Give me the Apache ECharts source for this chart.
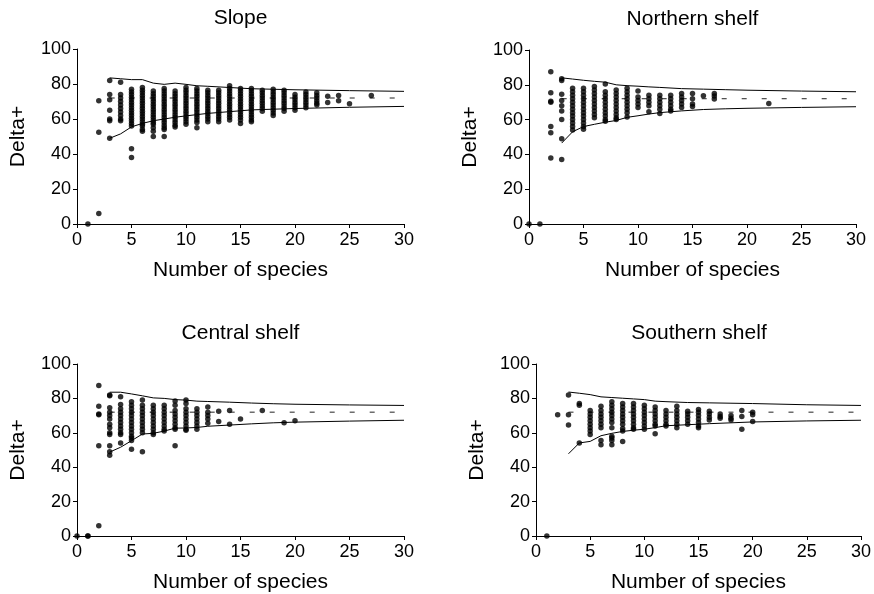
<!DOCTYPE html>
<html>
<head>
<meta charset="utf-8">
<script src="https://cdn.jsdelivr.net/npm/echarts@6/dist/echarts.min.js"></script>
<style>html,body{margin:0;padding:0;background:#fff}#c{width:874px;height:594px}</style>
</head>
<body>
<div id="c"></div>
<script>
const panelTitles = ['Slope', 'Northern shelf', 'Central shelf', 'Southern shelf'];
const xTicks = [0, 5, 10, 15, 20, 25, 30];
const yTicks = [0, 20, 40, 60, 80, 100];
const meanDelta = 72;

// points: [number of species, [Delta+ values]]
const slopePts = [
  [1, [0]],
  [2, [70.5, 52.5, 6]],
  [3, [82, 74, 71, 65, 60, 59, 49]],
  [4, [81, 74, 72, 70, 68, 66, 64, 62, 60, 59]],
  [5, [77, 75.5, 74, 72.5, 71, 69.5, 68, 66.5, 65, 63.5, 62, 60.5, 59, 57.5, 56, 43, 38]],
  [6, [78, 76.5, 75, 73.5, 72, 70.5, 69, 67.5, 66, 64.5, 63, 61.5, 60, 58.5, 57, 56, 54, 53]],
  [7, [76, 74.5, 73, 71.5, 70, 68.5, 67, 65.5, 64, 62.5, 61, 59.5, 58, 57, 55, 53, 50]],
  [8, [77.5, 76, 74.5, 73, 71.5, 70, 68.5, 67, 65.5, 64, 62.5, 61, 59.5, 58, 56.5, 55, 54, 50]],
  [9, [76, 74.5, 73, 71.5, 70, 68.5, 67, 65.5, 64, 62.5, 61, 59.5, 58, 56.5, 55.5]],
  [10, [78, 76.5, 75, 73.5, 72, 70.5, 69, 67.5, 66, 64.5, 63, 61.5, 60, 58.5, 57]],
  [11, [77.5, 76, 74.5, 73, 71.5, 70, 68.5, 67, 65.5, 64, 62.5, 61, 59.5, 58, 55]],
  [12, [76.5, 75, 73.5, 72, 70.5, 69, 67.5, 66, 64.5, 63, 61.5, 60, 58.5]],
  [13, [76.5, 75, 73.5, 72, 70.5, 69, 67.5, 66, 64.5, 63, 61.5, 60, 58.5]],
  [14, [79, 77.5, 76, 74.5, 73, 71.5, 70, 68.5, 67, 65.5, 64, 62.5, 61, 59.5]],
  [15, [77.5, 76, 74.5, 73, 71.5, 70, 68.5, 67, 65.5, 64, 62.5, 61, 59.5, 57.5]],
  [16, [77.5, 76, 74.5, 73, 71.5, 70, 68.5, 67, 65.5, 64, 62.5, 61, 59.5, 58.5]],
  [17, [76.5, 75, 73.5, 72, 70.5, 69, 67.5, 66, 64.5]],
  [18, [77, 75.5, 74, 72.5, 71, 69.5, 68, 66.5, 65, 63.5, 62]],
  [19, [76.5, 75, 73.5, 72, 70.5, 69, 67.5, 66, 64.5]],
  [20, [74, 72.5, 71, 69.5, 68, 66.5, 65]],
  [21, [75.5, 74, 72.5, 71, 69.5, 68, 66.5]],
  [22, [75, 73.5, 72, 70.5, 69, 68]],
  [23, [73, 69.5]],
  [24, [73.5, 70.5]],
  [25, [68.7]],
  [27, [73.5]]
];
const northPts = [
  [0, [0]],
  [1, [0]],
  [2, [87.5, 75.5, 70.5, 70, 56, 52.5, 38]],
  [3, [83.5, 82.5, 74.5, 71, 68, 65, 60, 49, 37]],
  [4, [78, 76, 74, 72, 70, 68, 66, 64, 62, 60, 58, 56, 54]],
  [5, [78, 76, 74, 72, 70, 68, 66, 64, 62, 60, 58, 56, 54.5]],
  [6, [79, 77, 75, 73, 71, 69, 67, 65, 63, 61]],
  [7, [80.5, 76, 74, 72, 70, 68, 66, 64, 62, 60, 59]],
  [8, [77, 75, 73, 71, 69, 67, 65, 63, 61, 60]],
  [9, [78, 76, 74, 72, 70, 68, 66, 64, 61.5]],
  [10, [76.5, 73, 71, 69, 67]],
  [11, [74, 72, 70, 68, 64.5]],
  [12, [74, 72, 70, 68, 66, 63.5]],
  [13, [74, 72, 70, 68, 66, 65]],
  [14, [75, 73, 71, 69, 67]],
  [15, [75, 72, 69, 67.5]],
  [16, [73.7]],
  [17, [75, 73.5, 71.8]],
  [22, [69.3]]
];
const centralPts = [
  [0, [0]],
  [1, [0, 0]],
  [2, [87.5, 75.5, 71, 70.5, 52.5, 6]],
  [3, [82, 81.5, 74.5, 72, 70, 68, 65, 63, 60, 59, 52.5, 49, 47]],
  [4, [81, 76.5, 74, 72, 70, 68, 66, 64, 62, 60, 59, 54]],
  [5, [78, 76, 74, 72, 70, 68, 66, 64, 62, 60, 58, 57, 55.5, 50.5]],
  [6, [79, 76, 74, 72, 70, 68, 66, 64, 62, 60, 49]],
  [7, [76, 74, 72, 70, 68, 66, 64, 62, 60, 59]],
  [8, [76, 74, 72, 70, 68, 66, 64, 62, 61]],
  [9, [78.5, 76, 73, 71, 69, 67, 65, 63, 62, 52.5]],
  [10, [79, 77, 74, 72, 70, 68, 66, 64, 62, 61.5]],
  [11, [74, 72, 70, 68, 66, 64, 62]],
  [12, [75, 72, 70, 68, 65.5]],
  [13, [72.5, 66.5]],
  [14, [73, 65]],
  [15, [68]],
  [17, [73]],
  [19, [65.8]],
  [20, [67]]
];
const southPts = [
  [1, [0]],
  [2, [70.5]],
  [3, [82, 70.5, 64.5]],
  [4, [77, 76, 54]],
  [5, [73, 71, 69, 67, 65, 63, 61, 59]],
  [6, [75.5, 73, 71, 69, 67, 65, 63, 55.5, 53]],
  [7, [78, 76, 74, 72, 70, 68, 66, 63, 58, 57, 55.5, 53]],
  [8, [77, 75, 73, 71, 69, 67, 65, 62.5, 61, 55]],
  [9, [77, 75, 73, 71, 69, 67, 65, 63, 62]],
  [10, [76, 74, 72, 70, 68, 66, 64, 62]],
  [11, [75, 73, 71, 69, 67, 65, 64, 59.5]],
  [12, [73, 71, 69, 67, 65, 64]],
  [13, [75.5, 73, 71, 69, 67, 65, 63]],
  [14, [72.5, 71, 69, 67, 65]],
  [15, [73.5, 72, 70, 68, 66, 64, 63]],
  [16, [72.5, 71, 69, 67.5]],
  [17, [71, 69.5, 68.5]],
  [18, [70, 68.5, 67.5]],
  [19, [73, 69.5, 62]],
  [20, [72, 70.5, 66.5]]
];

// funnel limits
const funnelX = [3, 4, 5, 6, 7, 8, 9, 10, 11, 12, 14, 16, 18, 20, 25, 30];
const slopeUpper = [83.5, 83, 82.5, 82.5, 80.5, 79.8, 80.5, 79.8, 79, 78.7, 78, 77.3, 77, 76.7, 76.2, 75.8];
const slopeLower = [49, 51.5, 55.5, 57.5, 59, 60, 61, 61.8, 62.5, 63.2, 64.2, 65.2, 65.6, 66, 66.7, 67.2];
const northUpper = [84, 83.3, 82.6, 82, 81.5, 80, 79.5, 79.2, 78.8, 78.5, 77.8, 77.5, 77.2, 76.9, 76.4, 76];
const northLower = [46.5, 53, 56, 57.3, 58.5, 59.5, 61.3, 62.2, 63.2, 64, 65, 65.8, 66.2, 66.5, 67, 67.4];
const centralUpper = [83.6, 83.6, 82.6, 81.5, 80.3, 80, 79.3, 79, 78.4, 78.2, 77.8, 77.3, 76.9, 76.6, 76.2, 75.9];
const centralLower = [48.8, 51.6, 55.4, 59.3, 59.7, 61, 62.7, 62.8, 63.1, 63.8, 64.5, 65.2, 65.8, 66.2, 66.8, 67.3];
const southUpper = [83.7, 83, 82.2, 80.9, 80.5, 80.1, 79.7, 79.3, 78.4, 78.1, 77.6, 77.4, 77.2, 77, 76.3, 75.9];
const southLower = [47.8, 54.1, 55, 58.3, 59.7, 60.8, 61.5, 62.1, 63, 64.1, 64.7, 65.3, 65.8, 66.3, 66.9, 67.3];

const panels = [
  { pts: slopePts, up: slopeUpper, lo: slopeLower },
  { pts: northPts, up: northUpper, lo: northLower },
  { pts: centralPts, up: centralUpper, lo: centralLower },
  { pts: southPts, up: southUpper, lo: southLower }
];

const grids = [
  { left: 77, top: 49, width: 327, height: 175 },
  { left: 529, top: 50, width: 327, height: 174 },
  { left: 77, top: 364, width: 327, height: 174 },
  { left: 536, top: 364, width: 326, height: 174 }
];
const FONT = 'Liberation Sans, Arial, sans-serif';

const option = {
  animation: false,
  backgroundColor: '#fff',
  textStyle: { fontFamily: FONT },
  title: grids.map((g, i) => ({
    text: panelTitles[i],
    left: g.left + g.width / 2,
    top: g.top - 41,
    textAlign: 'center',
    padding: 0,
    textStyle: { fontFamily: FONT, fontSize: 21, fontWeight: 'normal', color: '#000' }
  })),
  grid: grids,
  xAxis: grids.map((g, i) => ({
    type: 'value', gridIndex: i, min: 0, max: 30, interval: 5,
    name: 'Number of species', nameLocation: 'middle', nameGap: 36,
    nameTextStyle: { fontFamily: FONT, fontSize: 21, color: '#000' },
    axisLine: { show: true, lineStyle: { color: '#000', width: 1 } },
    axisTick: { show: true, length: 4, lineStyle: { color: '#000' } },
    axisLabel: { fontFamily: FONT, fontSize: 18, color: '#000', margin: 7 },
    splitLine: { show: false }
  })),
  yAxis: grids.map((g, i) => ({
    type: 'value', gridIndex: i, min: 0, max: 100, interval: 20,
    name: 'Delta+', nameLocation: 'middle', nameGap: 48, nameRotate: 90,
    nameTextStyle: { fontFamily: FONT, fontSize: 21, color: '#000' },
    axisLine: { show: true, lineStyle: { color: '#000', width: 1 } },
    axisTick: { show: true, length: 4, lineStyle: { color: '#000' } },
    axisLabel: { fontFamily: FONT, fontSize: 18, color: '#000', margin: 6 },
    splitLine: { show: false }
  })),
  series: []
};

panels.forEach((p, i) => {
  const pts = [];
  p.pts.forEach(([x, ys]) => ys.forEach(y => pts.push([x, y])));
  option.series.push({
    type: 'scatter', xAxisIndex: i, yAxisIndex: i, data: pts,
    symbol: 'circle', symbolSize: 5.5, itemStyle: { color: '#000' }, z: 3
  });
  option.series.push({
    type: 'line', xAxisIndex: i, yAxisIndex: i, showSymbol: false,
    data: funnelX.map((x, k) => [x, p.up[k]]),
    lineStyle: { color: '#000', width: 1 }, z: 2
  });
  option.series.push({
    type: 'line', xAxisIndex: i, yAxisIndex: i, showSymbol: false,
    data: funnelX.map((x, k) => [x, p.lo[k]]),
    lineStyle: { color: '#000', width: 1 }, z: 2
  });
  option.series.push({
    type: 'line', xAxisIndex: i, yAxisIndex: i, showSymbol: false,
    data: [[3, meanDelta], [30, meanDelta]],
    lineStyle: { color: '#222', width: 1, type: [5, 15] }, z: 2
  });
});

const chart = echarts.init(document.getElementById('c'), null, { renderer: 'canvas' });
chart.setOption(option);
</script>
</body>
</html>
